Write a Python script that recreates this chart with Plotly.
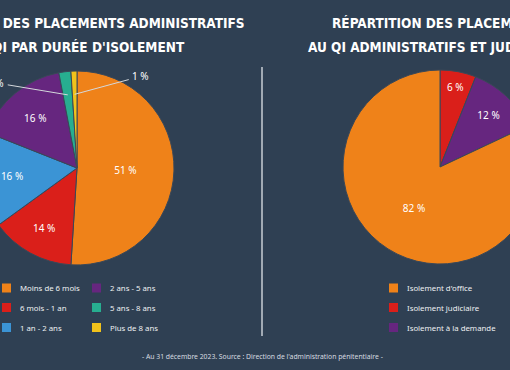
import plotly.graph_objects as go
import math

# ---------------- data ----------------
left_labels = ["Moins de 6 mois", "6 mois - 1 an", "1 an - 2 ans",
               "2 ans - 5 ans", "5 ans - 8 ans", "Plus de 8 ans"]
left_values = [51, 14, 16, 16, 2, 1]
left_colors = ["#ef8219", "#da1f1a", "#3b94d5", "#66267f", "#27ae90", "#f1c21b"]

right_labels = ["Isolement judiciaire", "Isolement à la demande", "Isolement d'office"]
right_values = [6, 12, 82]
right_colors = ["#da1f1a", "#66267f", "#ef8219"]
right_legend_order = ["Isolement d'office", "Isolement judiciaire", "Isolement à la demande"]

left_title = ["RÉPARTITION DES PLACEMENTS ADMINISTRATIFS", "AU QI PAR DURÉE D'ISOLEMENT"]
right_title = ["RÉPARTITION DES PLACEMENTS", "AU QI ADMINISTRATIFS ET JUDICIAIRES"]
footer = "- Au 31 décembre 2023. Source : Direction de l'administration pénitentiaire -"

# ---------------- layout helpers ----------------
W, H = 640, 370
SHIFT = 80
BG = "#2f4053"
TXT = "#eef0f2"
TITLE_FONT = "Liberation Sans Narrow, DejaVu Sans Condensed, Arial Narrow, sans-serif"
BODY_FONT = "Noto Sans, Open Sans, sans-serif"

def px(x):
    return x / W

def py(y):
    return 1 - y / H

R = 97
LC = (157, 168)
RC = (520, 167)

def fmt(v, small):
    return "" if small else f"{v} %"

fig = go.Figure()

fig.add_trace(go.Pie(
    labels=left_labels, values=left_values, sort=False, direction="clockwise", rotation=0,
    marker=dict(colors=left_colors, line=dict(color="#3a4858", width=1)),
    text=[fmt(v, v < 5) for v in left_values], textinfo="text", textposition="inside",
    insidetextorientation="horizontal",
    textfont=dict(family=BODY_FONT, size=10, color="#ffffff"),
    domain=dict(x=[px(LC[0] - R), px(LC[0] + R)], y=[py(LC[1] + R), py(LC[1] - R)]),
    showlegend=False, hoverinfo="skip",
))

fig.add_trace(go.Pie(
    labels=right_labels, values=right_values, sort=False, direction="clockwise", rotation=0,
    marker=dict(colors=right_colors, line=dict(color="#3a4858", width=1)),
    text=[fmt(v, False) for v in right_values], textinfo="text", textposition="inside",
    insidetextorientation="horizontal",
    textfont=dict(family=BODY_FONT, size=10, color="#ffffff"),
    domain=dict(x=[px(RC[0] - R), px(RC[0] + R)], y=[py(RC[1] + R), py(RC[1] - R)]),
    showlegend=False, hoverinfo="skip",
))

annotations = []
shapes = []

# titles
for cx, lines in ((LC[0], left_title), (RC[0], right_title)):
    for i, line in enumerate(lines):
        annotations.append(dict(
            text=f"<b>{line}</b>", x=px(cx), y=py(23 + 24 * i), xref="paper", yref="paper",
            xanchor="center", yanchor="middle", showarrow=False,
            font=dict(family=TITLE_FONT, size=13.5, color="#ffffff")))

# leader-line labels for the small slices (angle derived from the data)
total = sum(left_values)
cum = 0
label_offsets = {"5 ans - 8 ans": (-72, -12), "Plus de 8 ans": (66, -18)}
for lab, v in zip(left_labels, left_values):
    mid = (cum + v / 2) / total * 2 * math.pi
    cum += v
    if lab in label_offsets:
        tx = LC[0] + 0.76 * R * math.sin(mid)
        ty = LC[1] - 0.76 * R * math.cos(mid)
        ax, ay = label_offsets[lab]
        annotations.append(dict(
            text=f"{v} %", x=px(tx), y=py(ty), xref="paper", yref="paper",
            ax=ax, ay=ay, showarrow=True, arrowhead=0, arrowwidth=1, arrowcolor="#d4d8dc",
            standoff=0, startstandoff=2,
            font=dict(family=BODY_FONT, size=10, color="#ffffff")))

# legends (manual, column-major like the original)
def legend_item(sx, sy, color, label):
    shapes.append(dict(type="rect", xref="paper", yref="paper",
                       x0=px(sx), x1=px(sx + 9), y0=py(sy + 4.5), y1=py(sy - 4.5),
                       fillcolor=color, line=dict(width=0)))
    annotations.append(dict(text=label, x=px(sx + 16), y=py(sy), xref="paper", yref="paper",
                            xanchor="left", yanchor="middle", showarrow=False,
                            font=dict(family=BODY_FONT, size=7.8, color=TXT)))

rows_y = [288, 307.5, 327.5]
for i, (lab, col) in enumerate(zip(left_labels, left_colors)):
    colx = 82 if i < 3 else 172
    legend_item(colx, rows_y[i % 3], col, lab)

for i, lab in enumerate(right_legend_order):
    col = right_colors[right_labels.index(lab)]
    legend_item(469, rows_y[i], col, lab)

# divider
shapes.append(dict(type="line", xref="paper", yref="paper",
                   x0=px(342), x1=px(342), y0=py(67), y1=py(336),
                   line=dict(color="#c9ced4", width=1.5)))

# footer
annotations.append(dict(text=footer, x=px(262 + SHIFT), y=py(356), xref="paper", yref="paper",
                        xanchor="center", yanchor="middle", showarrow=False,
                        font=dict(family=BODY_FONT, size=6.8, color="#d8dce0")))

fig.update_layout(
    width=W, height=H, margin=dict(l=0, r=0, t=0, b=0),
    paper_bgcolor=BG, plot_bgcolor=BG,
    annotations=annotations, shapes=shapes,
)

post = """
var gd = document.getElementById('{plot_id}');
document.documentElement.style.overflow = 'hidden';
document.body.style.margin = '0';
document.body.style.overflow = 'hidden';
document.body.style.background = '%s';
gd.style.position = 'absolute';
gd.style.left = '-%dpx';
gd.style.top = '0px';
""" % (BG, SHIFT)

fig.write_html("out.html", config={"displayModeBar": False}, post_script=post)
